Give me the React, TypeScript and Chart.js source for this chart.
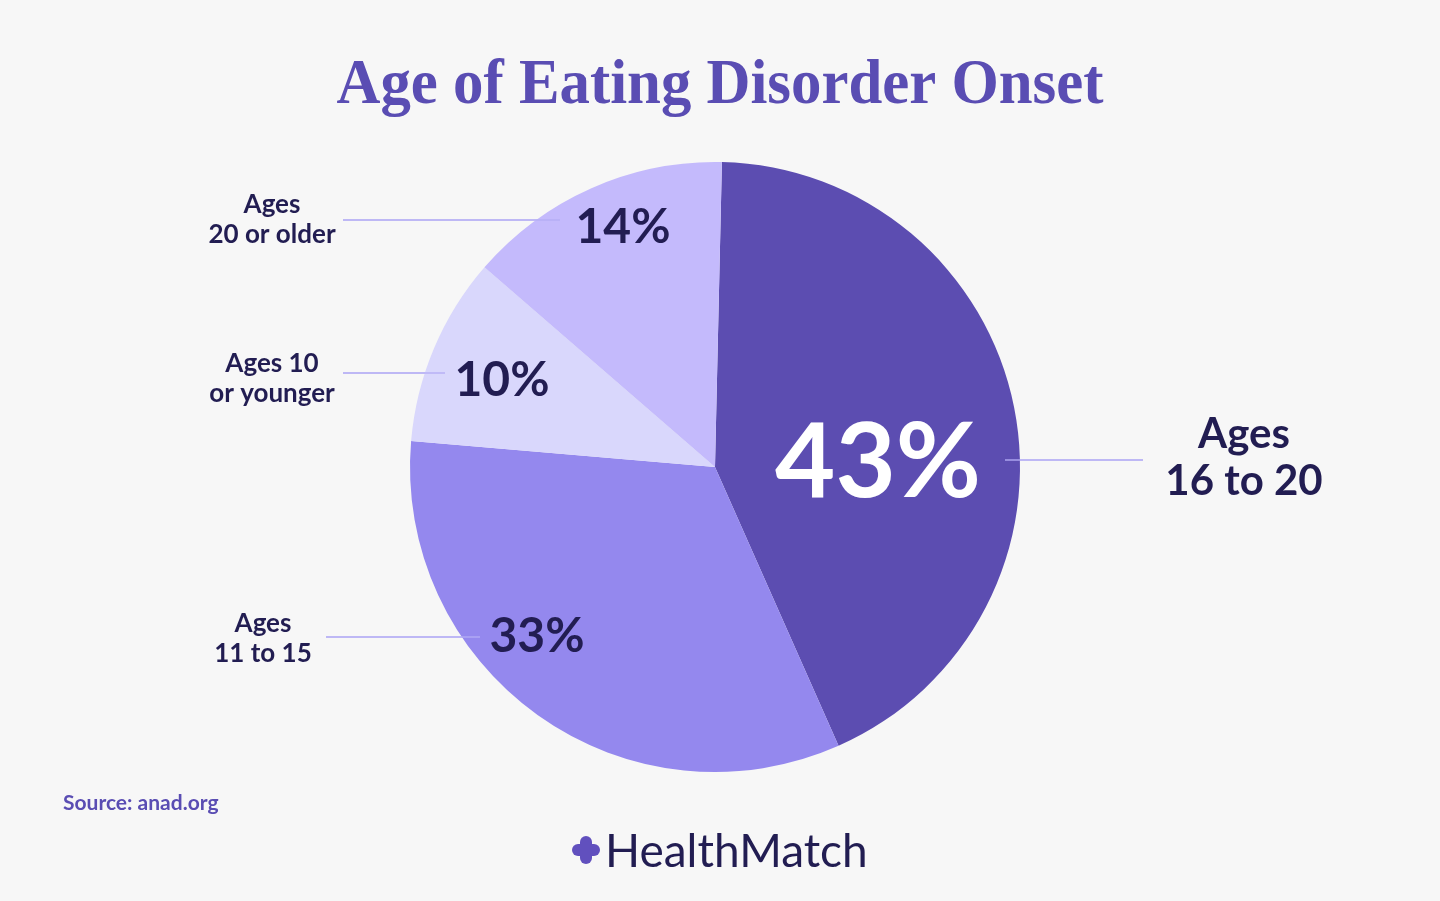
import React, { useEffect, useRef } from "react";
import { Chart, registerables } from "chart.js";

Chart.register(...registerables);

const categories = ["Ages 16 to 20", "Ages 11 to 15", "Ages 10 or younger", "Ages 20 or older"];
const shares = [43, 33, 10, 14];
const percentLabels = ["43%", "33%", "10%", "14%"];
const sliceColors = ["#5C4DB1", "#9488EE", "#D9D7FC", "#C4BAFC"];

// annotation layout (text + leader lines), in page pixels
const annotations = [
  { lines: ["Ages", "16 to 20"], tx: 1244, ty: [434, 481], size: 42, lx1: 1005, lx2: 1143, ly: 460, px: 878, py: 463, psize: 104, pcolor: "#FFFFFF" },
  { lines: ["Ages", "11 to 15"], tx: 263, ty: [624, 654], size: 26, lx1: 326, lx2: 480, ly: 637, px: 537, py: 637, psize: 48, pcolor: "#221D52" },
  { lines: ["Ages 10", "or younger"], tx: 272, ty: [364, 394], size: 26, lx1: 343, lx2: 445, ly: 373, px: 502, py: 381, psize: 48, pcolor: "#221D52" },
  { lines: ["Ages", "20 or older"], tx: 272, ty: [205, 235], size: 26, lx1: 343, lx2: 560, ly: 220, px: 623, py: 228, psize: 48, pcolor: "#221D52" },
];

const titleText = "Age of Eating Disorder Onset";
const sourceText = "Source: anad.org";
const brandText = "HealthMatch";

const textPlugin = {
  id: "textPlugin",
  beforeDraw(chart: any) {
    const ctx = chart.ctx;
    ctx.save();
    ctx.fillStyle = "#F7F7F7";
    ctx.fillRect(0, 0, chart.width, chart.height);
    ctx.strokeStyle = "#C9C4F6";
    ctx.lineWidth = 1.5;
    annotations.forEach((a) => {
      ctx.beginPath();
      ctx.moveTo(a.lx1, a.ly);
      ctx.lineTo(a.lx2, a.ly);
      ctx.stroke();
    });
    ctx.restore();
  },
  afterDatasetsDraw(chart: any) {
    const ctx = chart.ctx;
    ctx.save();
    ctx.strokeStyle = "rgba(180,172,245,0.9)";
    ctx.lineWidth = 1.5;
    annotations.forEach((a) => {
      ctx.beginPath();
      ctx.moveTo(a.lx1, a.ly);
      ctx.lineTo(a.lx2, a.ly);
      ctx.stroke();
    });
    ctx.textAlign = "center";
    ctx.textBaseline = "middle";
    annotations.forEach((a, i) => {
      ctx.fillStyle = "#221D52";
      ctx.font = `bold ${a.size}px Lato`;
      a.lines.forEach((l, j) => ctx.fillText(l, a.tx, a.ty[j]));
      ctx.fillStyle = a.pcolor;
      ctx.font = `bold ${a.psize}px Lato`;
      ctx.fillText(percentLabels[i], a.px, a.py);
    });
    // title
    ctx.fillStyle = "#5A4DB3";
    ctx.font = `bold 64px "Liberation Serif"`;
    ctx.textBaseline = "alphabetic";
    const w = ctx.measureText(titleText).width;
    const target = 767;
    ctx.save();
    ctx.translate(720, 103);
    ctx.scale(target / w, 1);
    ctx.fillText(titleText, 0, 0);
    ctx.restore();
    // source
    ctx.textAlign = "left";
    ctx.textBaseline = "middle";
    ctx.font = "bold 21px Lato";
    ctx.fillStyle = "#5A4DB3";
    ctx.fillText(sourceText, 63, 803);
    // brand
    ctx.font = "46px Lato";
    ctx.fillStyle = "#221D52";
    ctx.fillText(brandText, 605, 852);
    // icon
    ctx.fillStyle = "#6150BE";
    const cx = 586, cy = 850;
    const rr = (x: number, y: number, w2: number, h2: number, r: number) => {
      ctx.beginPath();
      ctx.roundRect(x, y, w2, h2, r);
      ctx.fill();
    };
    rr(cx - 14, cy - 6, 28, 12, 6);
    rr(cx - 6, cy - 14, 12, 28, 6);
    ctx.restore();
  },
};

export default function App() {
  const ref = useRef<HTMLCanvasElement>(null);
  useEffect(() => {
    document.body.style.margin = "0";
    document.body.style.background = "#F7F7F7";
    const chart = new Chart(ref.current!, {
      type: "pie",
      data: {
        labels: categories,
        datasets: [
          {
            data: shares,
            backgroundColor: sliceColors,
            borderWidth: 0,
          },
        ],
      },
      options: {
        responsive: false,
        animation: false,
        rotation: 1.3,
        layout: { padding: { top: 162, bottom: 129, left: 400, right: 410 } },
        plugins: { legend: { display: false }, tooltip: { enabled: false } },
      },
      plugins: [textPlugin],
    });
    return () => chart.destroy();
  }, []);
  return <canvas ref={ref} width={1440} height={901} style={{ display: "block" }} />;
}
